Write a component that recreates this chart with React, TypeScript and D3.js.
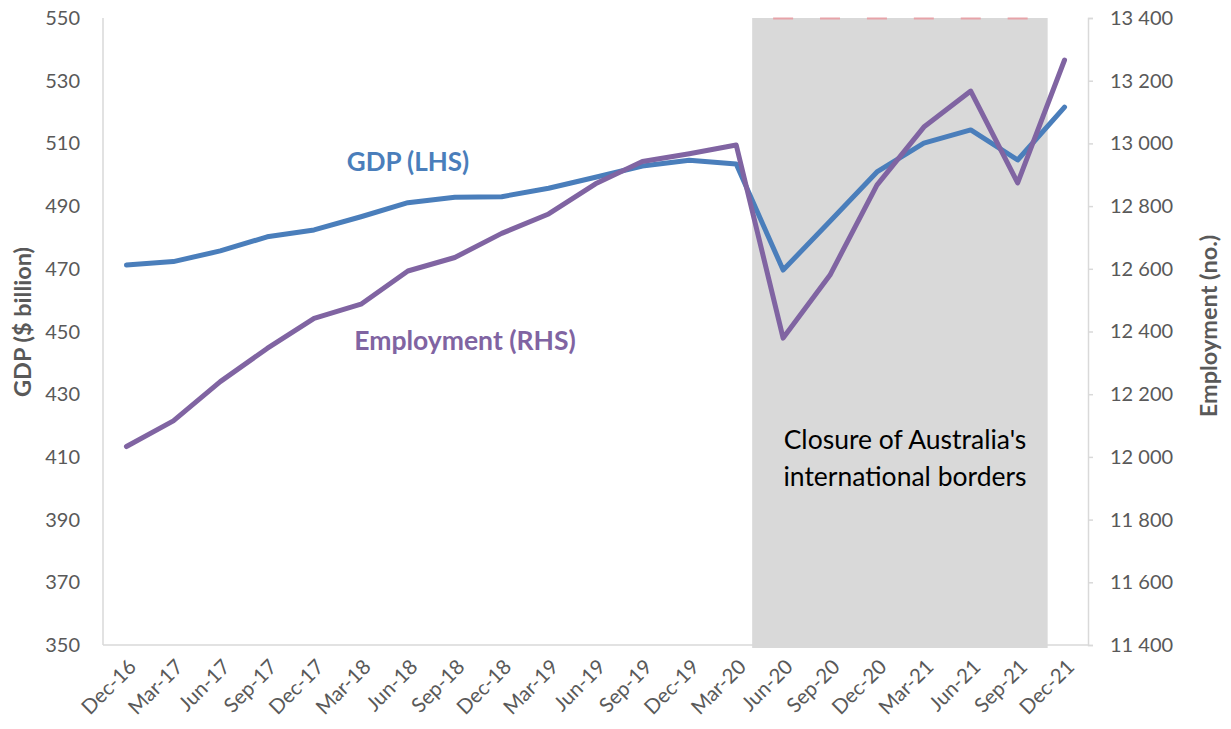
import React, { useRef, useEffect } from "react";
import * as d3 from "d3";

// quarters shown on the category axis
const quarters = [
  "Dec-16", "Mar-17", "Jun-17", "Sep-17", "Dec-17", "Mar-18", "Jun-18",
  "Sep-18", "Dec-18", "Mar-19", "Jun-19", "Sep-19", "Dec-19", "Mar-20",
  "Jun-20", "Sep-20", "Dec-20", "Mar-21", "Jun-21", "Sep-21", "Dec-21",
];

// GDP, $ billion (left axis)
const gdp = [
  471.2, 472.3, 475.7, 480.2, 482.4, 486.6, 491.1, 492.8, 493.0, 495.7,
  499.2, 502.8, 504.6, 503.4, 469.6, 485.2, 500.9, 510.1, 514.3, 504.7, 521.6,
];

// Employment, thousands (right axis)
const employment = [
  12033, 12115, 12240, 12346, 12442, 12487, 12593, 12636, 12713, 12775,
  12871, 12942, 12967, 12995, 12379, 12580, 12867, 13052, 13167, 12874, 13266,
];

// border-closure period (shaded)
const closedQuarters = ["Jun-20", "Sep-20", "Dec-20", "Mar-21", "Jun-21", "Sep-21"];

const leftTicks = [350, 370, 390, 410, 430, 450, 470, 490, 510, 530, 550];
const rightTicks = [11400, 11600, 11800, 12000, 12200, 12400, 12600, 12800, 13000, 13200, 13400];

const W = 1231;
const H = 729;
const FONT = "Lato, 'Open Sans', sans-serif";

export default function App() {
  const ref = useRef<SVGSVGElement | null>(null);

  useEffect(() => {
    document.body.style.margin = "0";
    const svg = d3.select(ref.current);
    svg.selectAll("*").remove();

    const left = 103, right = 1088, top = 18, bottom = 645;

    const x = d3.scaleBand<string>().domain(quarters).range([left, right]).padding(0);
    const bw = x.bandwidth();
    const cx = (q: string) => (x(q) as number) + bw / 2;
    const yL = d3.scaleLinear().domain([350, 550]).range([bottom, top]);
    const yR = d3.scaleLinear().domain([11400, 13400]).range([bottom, top]);

    // shaded closure area
    const x0 = cx(closedQuarters[0]) - bw * 0.66;
    const x1 = cx(closedQuarters[closedQuarters.length - 1]) + bw * 0.64;
    svg.append("rect")
      .attr("x", x0).attr("y", top)
      .attr("width", x1 - x0).attr("height", bottom - top + 3)
      .attr("fill", "#d9d9d9");

    // faint red dashes along the top of the shaded area
    svg.selectAll("line.dash")
      .data(closedQuarters)
      .enter()
      .append("line")
      .attr("class", "dash")
      .attr("x1", (d) => cx(d) - 10).attr("x2", (d) => cx(d) + 10)
      .attr("y1", top + 0.5).attr("y2", top + 0.5)
      .attr("stroke", "#e6a3a8").attr("stroke-width", 2);

    // axes lines
    svg.append("line")
      .attr("x1", left).attr("x2", left).attr("y1", top).attr("y2", bottom)
      .attr("stroke", "#d9d9d9").attr("stroke-width", 1.5);
    svg.append("line")
      .attr("x1", left).attr("x2", right).attr("y1", bottom).attr("y2", bottom)
      .attr("stroke", "#d9d9d9").attr("stroke-width", 1.5);

    const rAxis = svg.append("g")
      .attr("transform", `translate(${right},0)`)
      .call(
        d3.axisRight(yR)
          .tickValues(rightTicks)
          .tickSize(5)
          .tickPadding(17)
          .tickFormat((d) => d3.format(",")(d as number).replace(",", " "))
      );
    rAxis.select(".domain").attr("stroke", "#d9d9d9").attr("stroke-width", 1.5);
    rAxis.selectAll(".tick line").attr("stroke", "#d9d9d9").attr("stroke-width", 1.5);
    rAxis.selectAll("text")
      .attr("fill", "#595959").attr("font-size", 20).attr("font-family", FONT);

    // left tick labels
    svg.selectAll("text.lt")
      .data(leftTicks)
      .enter()
      .append("text")
      .attr("class", "lt")
      .attr("x", left - 23)
      .attr("y", (d) => yL(d))
      .attr("dy", "0.35em")
      .attr("text-anchor", "end")
      .attr("fill", "#595959")
      .attr("font-size", 20)
      .attr("font-family", FONT)
      .text((d) => d);

    // category labels
    svg.selectAll("text.xt")
      .data(quarters)
      .enter()
      .append("text")
      .attr("class", "xt")
      .attr("transform", (d) => `translate(${cx(d) + 6},${bottom + 18}) rotate(-45)`)
      .attr("text-anchor", "end")
      .attr("dy", "0.35em")
      .attr("fill", "#595959")
      .attr("font-size", 20.5)
      .attr("font-family", FONT)
      .text((d) => d);

    // axis titles
    svg.append("text")
      .attr("transform", `translate(31,322) rotate(-90)`)
      .attr("text-anchor", "middle")
      .attr("fill", "#595959").attr("font-size", 23.5).attr("font-weight", 700)
      .attr("font-family", FONT)
      .text("GDP ($ billion)");
    svg.append("text")
      .attr("transform", `translate(1217,326) rotate(-90)`)
      .attr("text-anchor", "middle")
      .attr("fill", "#595959").attr("font-size", 23.5).attr("font-weight", 700)
      .attr("font-family", FONT)
      .text("Employment (no.)");

    // lines
    const gdpLine = d3.line<number>().x((_d, i) => cx(quarters[i])).y((d) => yL(d));
    const empLine = d3.line<number>().x((_d, i) => cx(quarters[i])).y((d) => yR(d));

    svg.append("path")
      .attr("d", gdpLine(gdp) as string)
      .attr("fill", "none").attr("stroke", "#4a7ebb").attr("stroke-width", 5)
      .attr("stroke-linejoin", "round").attr("stroke-linecap", "round");
    svg.append("path")
      .attr("d", empLine(employment) as string)
      .attr("fill", "none").attr("stroke", "#8064a2").attr("stroke-width", 5)
      .attr("stroke-linejoin", "round").attr("stroke-linecap", "round");

    // series labels
    svg.append("text")
      .attr("x", 408).attr("y", 162).attr("dy", "0.35em")
      .attr("text-anchor", "middle")
      .attr("fill", "#4a7ebb").attr("font-size", 26).attr("font-weight", 700)
      .attr("font-family", FONT)
      .text("GDP (LHS)");
    svg.append("text")
      .attr("x", 465).attr("y", 341).attr("dy", "0.35em")
      .attr("text-anchor", "middle")
      .attr("fill", "#8064a2").attr("font-size", 26.5).attr("font-weight", 700)
      .attr("font-family", FONT)
      .text("Employment (RHS)");

    // closure annotation
    const note = svg.append("text")
      .attr("text-anchor", "middle")
      .attr("fill", "#000").attr("font-size", 26.5)
      .attr("font-family", FONT);
    note.append("tspan").attr("x", 905).attr("y", 449).text("Closure of Australia's");
    note.append("tspan").attr("x", 905).attr("y", 486).text("international borders");

    return () => { svg.selectAll("*").remove(); };
  }, []);

  return <svg ref={ref} width={W} height={H} style={{ display: "block", background: "#fff" }} />;
}
